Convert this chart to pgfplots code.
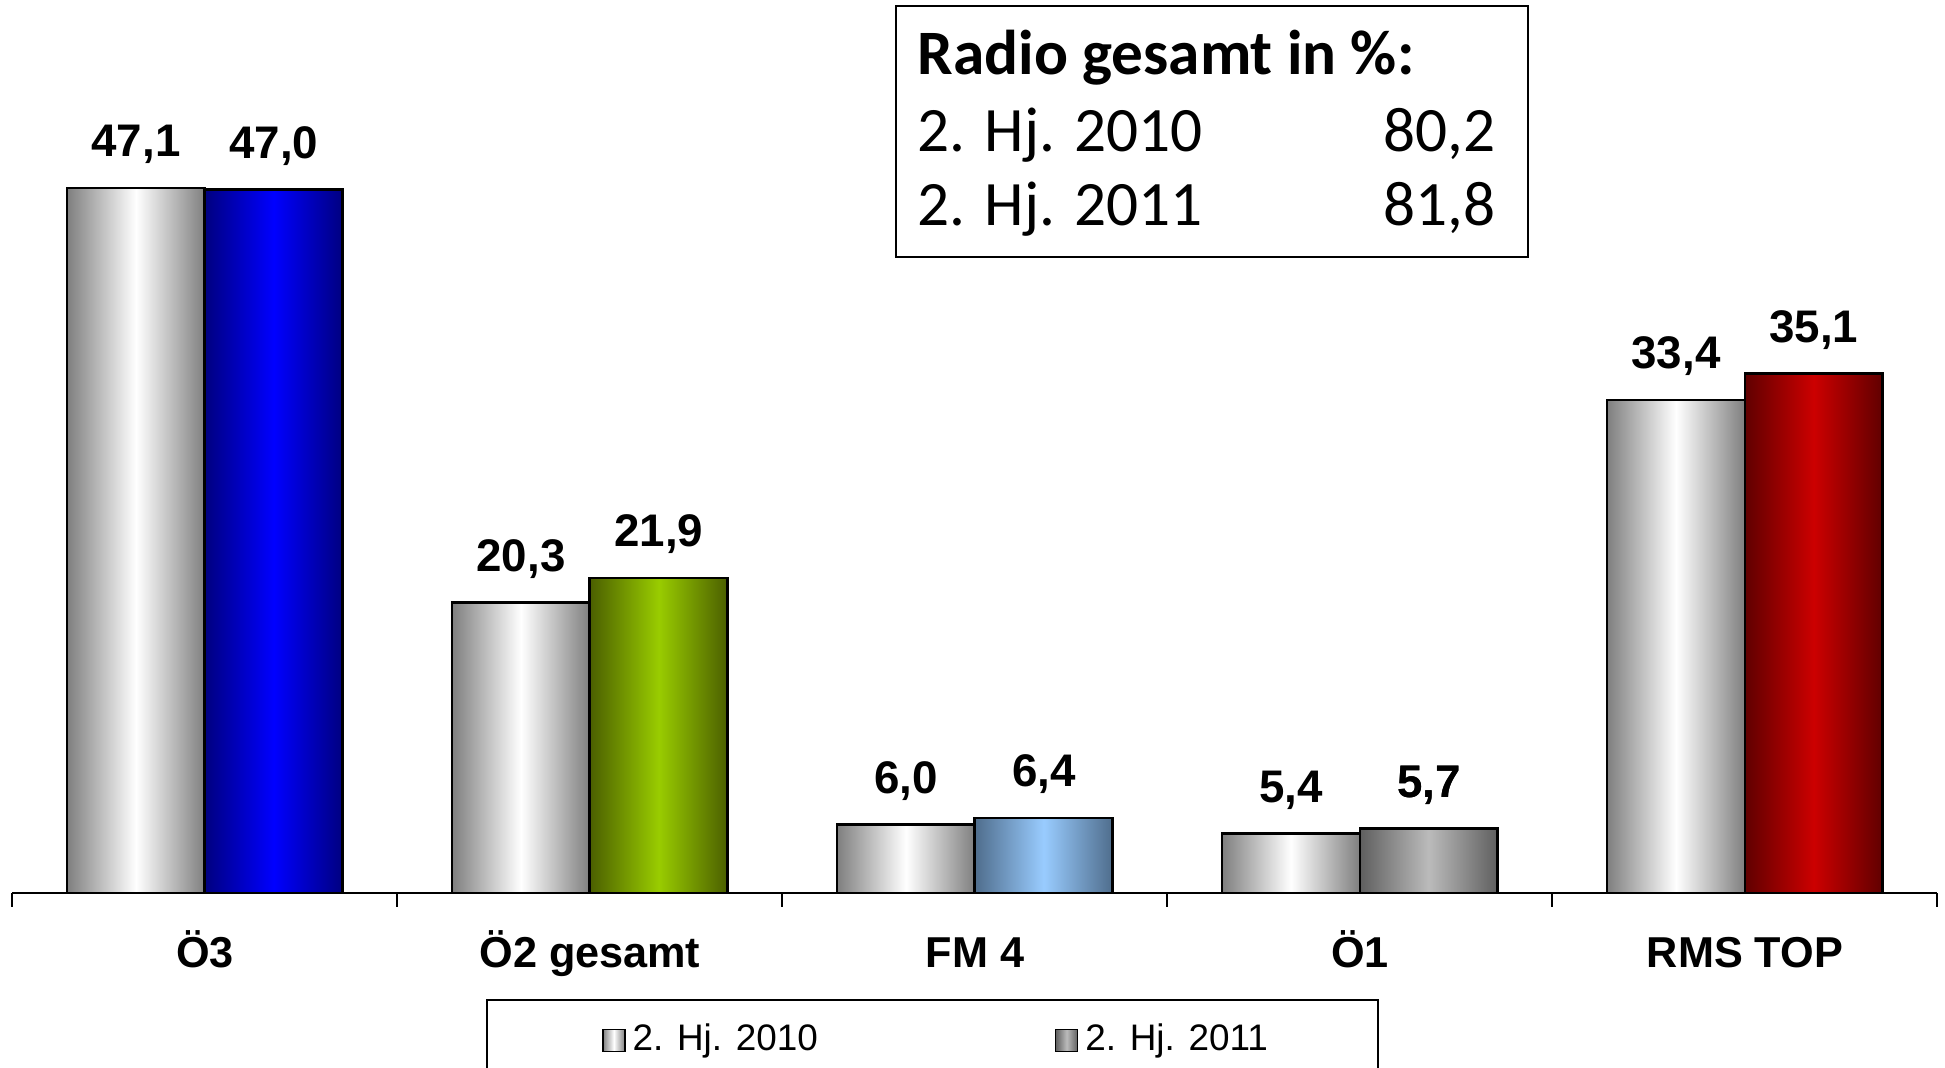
\documentclass[border=0pt]{standalone}
\usepackage{pgfplots}
\pgfplotsset{compat=1.18}
\usepackage{fontspec}
\setmainfont{Liberation Sans}
\newfontfamily\carlito{Carlito}
\definecolor{gedge}{HTML}{7F7F7F}
\definecolor{bedge}{HTML}{000080}
\definecolor{bmid}{HTML}{0000FF}
\definecolor{gredge}{HTML}{4B5F00}
\definecolor{grmid}{HTML}{99CC00}
\definecolor{lbedge}{HTML}{4F6D8C}
\definecolor{lbmid}{HTML}{99CCFF}
\definecolor{o1edge}{HTML}{5F5F5F}
\definecolor{o1mid}{HTML}{BBBBBB}
\definecolor{redge}{HTML}{600000}
\definecolor{rmid}{HTML}{CC0000}
\pgfplotsset{
  sqlegend/.style={legend image code/.code={\draw[##1,/tikz/.cd,line width=0.4pt] (0cm,-0.11cm) rectangle (0.22cm,0.11cm);}},
  sA/.style={ybar, bar shift=-0.179, draw=black, line width=0.8pt, left color=gedge, right color=gedge, middle color=white},
  sB/.style 2 args={ybar, bar shift=0.179, draw=black, line width=0.8pt, left color=#1, right color=#1, middle color=#2},
}
\begin{document}
\begin{tikzpicture}
\begin{axis}[
  at={(0.124cm,1.75cm)}, anchor=south west,
  scale only axis, width=19.25cm, height=8.93cm,
  xmin=-0.5, xmax=4.5, ymin=1.55, ymax=59.24,
  axis x line*=bottom, axis y line=none,
  axis line style={line width=0.8pt, black},
  axis on top,
  xtick={0,1,2,3,4},
  xticklabels={Ö3, Ö2 gesamt, FM 4, Ö1, RMS TOP},
  major tick length=0pt,
  minor xtick={-0.5,0.5,1.5,2.5,3.5,4.5},
  minor tick length=0.14cm,
  tick align=outside,
  minor tick style={line width=0.6pt, black},
  xticklabel style={font=\fontsize{12.3}{14}\selectfont\bfseries, anchor=base, inner sep=0pt, yshift=-0.74cm},
  ybar, bar width=0.358,
  nodes near coords,
  nodes near coords style={font=\fontsize{13}{15}\selectfont\bfseries, anchor=base, inner sep=0pt, yshift=0.31cm},
  legend style={at={(0.246,-0.1187)}, anchor=north west, draw=black, line width=0.7pt,
    font=\fontsize{10.5}{12}\selectfont, inner xsep=1.15cm, inner ysep=0.17cm,
    /tikz/every even column/.append style={column sep=2.3cm}},
  legend columns=2,
  legend cell align=left,
  /pgf/number format/.cd, fixed, fixed zerofill, precision=1, use comma, assume math mode=true
]
% 2. Hj. 2010
\addplot[sA, sqlegend] coordinates {(0,47.1)};
\addlegendentry{2. Hj. 2010}
% 2. Hj. 2011 (Oe1, default grey)
\addplot[sB={o1edge}{o1mid}, sqlegend] coordinates {(3,5.7)};
\addlegendentry{2. Hj. 2011\hspace*{-0.12cm}}
\addplot[sA, forget plot] coordinates {(1,20.3)};
\addplot[sA, forget plot] coordinates {(2,6.0)};
\addplot[sA, forget plot] coordinates {(3,5.4)};
\addplot[sA, forget plot] coordinates {(4,33.4)};
\addplot[sB={bedge}{bmid}, forget plot] coordinates {(0,47.0)};
\addplot[sB={gredge}{grmid}, forget plot] coordinates {(1,21.9)};
\addplot[sB={lbedge}{lbmid}, forget plot] coordinates {(2,6.4)};
\addplot[sB={o1edge}{o1mid}, forget plot] coordinates {(3,5.7)};
\addplot[sB={redge}{rmid}, forget plot] coordinates {(4,35.1)};
\end{axis}
\draw[line width=0.6pt] (8.96,8.11) rectangle (15.28,10.62);
\node[anchor=base west, inner sep=0pt, font=\carlito\fontsize{18}{20}\selectfont\bfseries] at (9.17,9.93) {Radio gesamt in \%:};
\node[anchor=base west, inner sep=0pt, font=\carlito\fontsize{18}{20}\selectfont] at (9.17,9.16) {2. Hj. 2010};
\node[anchor=base west, inner sep=0pt, font=\carlito\fontsize{18}{20}\selectfont] at (9.17,8.42) {2. Hj. 2011};
\node[anchor=base east, inner sep=0pt, font=\carlito\fontsize{18}{20}\selectfont] at (14.96,9.16) {80,2};
\node[anchor=base east, inner sep=0pt, font=\carlito\fontsize{18}{20}\selectfont] at (14.96,8.42) {81,8};
\pgfresetboundingbox
\useasboundingbox (0,0) rectangle (19.45,10.68);
\end{tikzpicture}
\end{document}
